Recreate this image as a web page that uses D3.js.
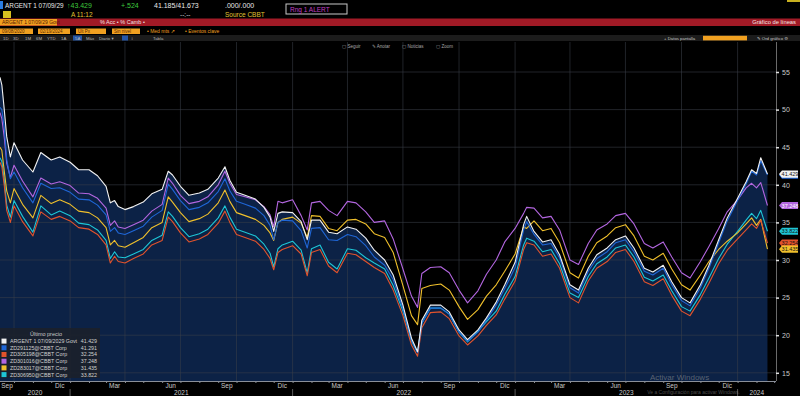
<!DOCTYPE html>
<html>
<head>
<meta charset="utf-8">
<script src="https://cdn.jsdelivr.net/npm/d3@7"></script>
<style>
  body { margin: 0; background: #000; }
  svg { display: block; font-family: "Liberation Sans", "DejaVu Sans", Arial, sans-serif; }
</style>
</head>
<body>
<div id="vis"></div>
<script>
// Sample dates (irregular, denser where the price jumps)
const dates = [
  "2020-09-08","2020-09-11","2020-09-15","2020-09-19","2020-09-25","2020-10-01","2020-10-15","2020-11-01","2020-11-14","2020-12-01",
  "2020-12-15","2021-01-01","2021-01-15","2021-02-01","2021-02-15","2021-03-01","2021-03-08","2021-03-15","2021-03-21","2021-04-01",
  "2021-04-15","2021-05-01","2021-05-15","2021-06-01","2021-06-11","2021-06-18","2021-07-01","2021-07-15","2021-08-01","2021-08-15",
  "2021-09-01","2021-09-12","2021-09-20","2021-10-01","2021-10-15","2021-11-01","2021-11-15","2021-11-25","2021-12-01","2021-12-08",
  "2021-12-15","2022-01-01","2022-01-15","2022-01-25","2022-02-01","2022-02-15","2022-03-01","2022-03-15","2022-04-01","2022-04-15",
  "2022-05-01","2022-05-15","2022-06-01","2022-06-15","2022-07-01","2022-07-15","2022-07-25","2022-08-01","2022-08-15","2022-09-01",
  "2022-09-15","2022-10-01","2022-10-15","2022-11-01","2022-11-15","2022-12-01","2022-12-15","2023-01-01","2023-01-15","2023-01-20",
  "2023-02-01","2023-02-15","2023-03-01","2023-03-15","2023-04-01","2023-04-15","2023-05-01","2023-05-15","2023-06-01","2023-06-15",
  "2023-07-01","2023-07-15","2023-08-01","2023-08-15","2023-09-01","2023-09-15","2023-10-01","2023-10-15","2023-11-01","2023-11-15",
  "2023-12-01","2023-12-15","2024-01-01","2024-01-15","2024-01-24","2024-02-01","2024-02-08","2024-02-19"
];

// Series values (price)
const argentGovt = [
  54.3, 53.3, 50.0, 46.4, 43.7, 45.6, 43.3, 41.7, 44.3, 43.3,
  43.7, 43.0, 42.0, 42.0, 41.2, 39.8, 37.6, 37.9, 37.1, 36.7,
  37.1, 37.7, 38.8, 39.4, 41.8, 41.3, 39.8, 38.6, 38.9, 39.4,
  40.9, 42.4, 40.6, 39.0, 38.6, 38.1, 37.0, 35.7, 33.8, 36.2,
  36.4, 36.3, 35.1, 32.7, 35.3, 35.3, 33.7, 33.5, 34.4, 34.1,
  32.9, 31.3, 30.0, 28.0, 24.0, 19.6, 17.8, 22.0, 24.0, 24.0,
  23.1, 20.7, 19.4, 20.7, 22.3, 24.4, 26.7, 29.7, 34.7, 35.8,
  33.8, 32.4, 32.7, 30.7, 26.7, 26.0, 28.9, 30.7, 31.6, 32.7,
  33.2, 31.6, 28.9, 28.4, 29.3, 27.1, 25.0, 24.3, 26.7, 29.3,
  32.7, 35.6, 38.2, 40.4, 42.0, 41.5, 43.6, 41.429
];
const corpBlue = [
  50.3, 50.0, 47.6, 43.4, 40.8, 41.7, 39.6, 37.6, 40.2, 39.5,
  39.6, 39.0, 38.1, 38.0, 37.3, 36.0, 33.8, 34.3, 33.6, 33.4,
  33.9, 34.5, 35.7, 36.6, 40.1, 39.4, 37.9, 36.7, 37.0, 37.6,
  39.1, 40.8, 39.2, 37.8, 37.4, 36.9, 35.9, 34.6, 32.7, 35.0,
  35.3, 35.2, 33.9, 31.6, 34.2, 34.3, 32.7, 32.6, 33.4, 33.1,
  31.9, 30.4, 29.3, 27.4, 23.5, 19.3, 17.7, 21.6, 23.6, 23.6,
  22.8, 20.4, 19.2, 20.4, 22.0, 24.0, 26.2, 29.0, 34.0, 35.1,
  33.4, 32.0, 32.2, 30.3, 26.3, 25.6, 28.5, 30.2, 31.1, 32.3,
  32.7, 31.1, 28.5, 28.0, 28.9, 26.7, 24.6, 23.9, 26.3, 28.9,
  32.3, 35.2, 37.9, 40.1, 41.8, 41.3, 43.2, 41.291
];
const corpRed = [
  43.0, 42.4, 39.9, 36.6, 35.0, 37.2, 35.1, 33.2, 36.4, 35.4,
  35.8, 35.2, 34.3, 34.1, 33.4, 32.0, 29.6, 30.5, 29.8, 29.6,
  30.2, 30.8, 32.0, 32.6, 35.7, 35.1, 33.6, 32.4, 32.8, 33.4,
  34.9, 36.5, 35.0, 33.4, 33.0, 32.5, 31.4, 30.2, 28.7, 31.0,
  31.4, 31.9, 30.8, 27.9, 31.0, 31.4, 29.2, 28.3, 30.9, 30.7,
  29.8, 29.0, 28.2, 26.0, 22.6, 18.7, 17.2, 21.0, 23.0, 23.1,
  22.2, 19.9, 18.7, 19.9, 21.3, 22.7, 24.8, 27.2, 31.4, 32.3,
  32.0, 30.5, 30.8, 28.9, 25.0, 24.3, 27.2, 28.9, 29.8, 31.0,
  31.4, 29.8, 27.1, 26.6, 27.5, 25.3, 23.2, 22.6, 24.8, 26.9,
  29.5, 31.3, 32.8, 34.0, 34.8, 34.2, 35.3, 32.254
];
const corpPurple = [
  49.6, 48.8, 46.3, 42.9, 41.0, 42.6, 40.5, 38.4, 40.9, 40.1,
  40.4, 39.9, 38.9, 38.8, 38.2, 36.9, 34.6, 35.2, 34.4, 34.2,
  34.7, 35.3, 36.5, 37.4, 40.9, 40.2, 38.6, 37.5, 37.8, 38.4,
  40.0, 41.8, 40.2, 38.7, 38.4, 38.0, 37.1, 36.0, 34.4, 37.8,
  37.6, 38.0, 35.9, 34.0, 37.6, 37.8, 36.6, 35.9, 37.8, 37.6,
  36.4, 35.0, 35.2, 32.8, 28.8, 25.2, 23.7, 28.2, 29.0, 29.1,
  28.3, 26.0, 24.3, 25.9, 28.1, 30.0, 32.4, 34.2, 36.2, 37.0,
  36.9, 35.6, 35.8, 34.0, 30.0, 29.4, 32.2, 34.0, 34.8, 35.9,
  36.2, 34.8, 32.2, 31.6, 32.4, 30.4, 28.3, 27.6, 29.8, 31.8,
  34.2, 36.4, 38.0, 39.6, 40.2, 39.6, 40.3, 37.248
];
const corpYellow = [
  45.0, 44.6, 41.8, 39.2, 37.6, 39.5, 37.4, 35.6, 38.6, 37.5,
  38.0, 37.4, 36.5, 36.3, 35.6, 34.3, 32.0, 32.6, 31.9, 31.7,
  32.3, 33.0, 34.3, 35.0, 38.4, 37.7, 36.3, 35.1, 35.5, 36.1,
  37.6, 39.3, 37.8, 36.3, 35.9, 35.4, 34.6, 33.6, 32.6, 35.0,
  35.4, 35.7, 34.9, 33.0, 35.9, 35.8, 34.2, 33.9, 35.3, 35.4,
  34.8, 33.5, 33.0, 31.0, 26.6, 22.6, 21.4, 26.2, 26.6, 26.8,
  26.0, 23.8, 22.1, 23.4, 25.2, 26.7, 28.5, 30.8, 34.4, 34.2,
  35.2, 33.9, 34.2, 32.3, 28.3, 27.6, 30.5, 32.3, 33.2, 34.3,
  34.7, 33.2, 30.5, 30.0, 30.9, 28.8, 26.7, 26.0, 28.0, 29.8,
  31.4, 32.5, 33.6, 34.8, 35.6, 34.6, 35.4, 31.435
];
const corpCyan = [
  43.6, 43.1, 40.6, 37.3, 35.7, 37.9, 35.8, 33.7, 37.2, 36.0,
  36.5, 35.9, 34.9, 34.7, 34.0, 32.6, 30.2, 31.1, 30.4, 30.3,
  30.8, 31.4, 32.6, 33.3, 36.4, 35.8, 34.3, 33.1, 33.5, 34.1,
  35.6, 37.2, 35.7, 34.1, 33.7, 33.2, 32.1, 30.9, 29.1, 31.5,
  32.0, 32.5, 31.3, 28.3, 31.5, 32.0, 29.7, 28.8, 31.5, 31.3,
  30.3, 29.6, 28.8, 26.6, 23.2, 19.2, 17.7, 21.6, 23.6, 23.6,
  22.8, 20.4, 19.1, 20.5, 21.8, 23.2, 25.4, 27.8, 32.0, 32.9,
  32.5, 31.1, 31.4, 29.5, 25.6, 25.0, 27.8, 29.5, 30.4, 31.6,
  32.0, 30.4, 27.7, 27.2, 28.0, 25.9, 23.8, 23.2, 25.4, 27.6,
  30.2, 32.1, 33.8, 35.3, 36.2, 35.5, 36.6, 33.822
];

const seriesNames = ["ARGENT 1 07/09/2029 Govt", "ZD291125@CBBT Corp", "ZD305198@CBBT Corp", "ZD301016@CBBT Corp", "ZD283017@CBBT Corp", "ZD306950@CBBT Corp"];
const lastPrices = ["41.429", "41.291", "32.254", "37.248", "31.435", "33.822"];
const seriesColors = ["#f2f2f2", "#1f66d6", "#e2532c", "#b366e0", "#f0c02c", "#1ec6d6"];
const seriesValues = [argentGovt, corpBlue, corpRed, corpPurple, corpYellow, corpCyan];

const yTicks = [15, 20, 25, 30, 35, 40, 45, 50, 55];
const monthNames = ["Ene", "Feb", "Mar", "Abr", "May", "Jun", "Jul", "Ago", "Sep", "Oct", "Nov", "Dic"];
const years = [2020, 2021, 2022, 2023, 2024];

// Layout
const W = 800, H = 396;
const plot = { left: 0, right: 776, top: 42, bottom: 381 };

const svg = d3.select('#vis').append('svg').attr('width', W).attr('height', H);
svg.append('rect').attr('width', W).attr('height', H).attr('fill', '#000');

const parse = d3.timeParse('%Y-%m-%d');
const dateObjs = dates.map(parse);

const xScale = d3.scaleTime()
  .domain([new Date(2020, 8, 8), new Date(2024, 2, 4)])
  .range([plot.left, plot.right]);
const yScale = d3.scaleLinear().domain([55, 15]).range([72, 372.8]);

// ---------- plot ----------
const g = svg.append('g');

// area under the government bond line
const govData = dateObjs.map((d, i) => ({ date: d, v: argentGovt[i] }));
g.append('path')
  .datum(govData)
  .attr('fill', '#0c2246')
  .attr('d', d3.area().x(d => xScale(d.date)).y0(plot.bottom).y1(d => yScale(d.v)));

// grid
const quarterStarts = d3.timeMonth.range(new Date(2020, 9, 1), new Date(2024, 2, 4), 3);
g.selectAll('.vgrid').data(quarterStarts).join('line')
  .attr('x1', d => xScale(d)).attr('x2', d => xScale(d))
  .attr('y1', plot.top).attr('y2', plot.bottom)
  .attr('stroke', '#3a3f48').attr('stroke-opacity', 0.55).attr('stroke-width', 1);
g.selectAll('.hgrid').data(yTicks).join('line')
  .attr('x1', plot.left).attr('x2', plot.right)
  .attr('y1', d => yScale(d)).attr('y2', d => yScale(d))
  .attr('stroke', '#3a3f48').attr('stroke-opacity', 0.55).attr('stroke-width', 1);

// lines (government bond drawn last, on top)
const line = d3.line().x(d => xScale(d.date)).y(d => yScale(d.v));
[5, 4, 3, 2, 1, 0].forEach(k => {
  const data = dateObjs.map((d, i) => ({ date: d, v: seriesValues[k][i] }));
  g.append('path').datum(data)
    .attr('fill', 'none')
    .attr('stroke', seriesColors[k])
    .attr('stroke-width', 1.1)
    .attr('stroke-linejoin', 'round')
    .attr('d', line);
});

// ---------- right axis ----------
svg.append('line').attr('x1', plot.right + 0.5).attr('x2', plot.right + 0.5)
  .attr('y1', plot.top).attr('y2', plot.bottom).attr('stroke', '#6a6a6a');
const yAxis = svg.append('g').attr('transform', `translate(${plot.right},0)`)
  .call(d3.axisRight(yScale).tickValues(yTicks).tickSize(3).tickPadding(3));
yAxis.select('.domain').remove();
yAxis.selectAll('line').attr('stroke', '#e0e0e0').attr('stroke-width', 1.5);
yAxis.selectAll('text').attr('fill', '#c8c8c8').style('font-size', '7px');

// last value tags
[1, 0, 3, 5, 2, 4].forEach(k => {
  const v = +lastPrices[k];
  const yy = yScale(v);
  const tg = svg.append('g').attr('transform', `translate(779,${yy})`);
  tg.append('path')
    .attr('d', 'M0,0 L3,-3.6 L19,-3.6 L19,3.6 L3,3.6 Z')
    .attr('fill', seriesColors[k]);
  tg.append('text').attr('x', 11).attr('y', 2.2).attr('text-anchor', 'middle')
    .attr('fill', k === 3 ? '#fff' : '#111').style('font-size', '5.5px')
    .text(lastPrices[k]);
});

// ---------- bottom axis ----------
svg.append('line').attr('x1', 0).attr('x2', plot.right).attr('y1', plot.bottom + 0.5).attr('y2', plot.bottom + 0.5)
  .attr('stroke', '#8a8f98');
const xAxis = svg.append('g').attr('transform', `translate(0,${plot.bottom})`)
  .call(d3.axisBottom(xScale).ticks(d3.timeMonth.every(1)).tickSize(2).tickFormat(''));
xAxis.select('.domain').remove();
xAxis.selectAll('line').attr('stroke', '#8a8f98');

const labelMonths = d3.timeMonth.range(new Date(2020, 8, 1), new Date(2024, 1, 1))
  .filter(d => [2, 5, 8, 11].includes(d.getMonth()));
svg.selectAll('.mlabel').data(labelMonths).join('text')
  .attr('x', d => Math.max(xScale(new Date(d.getFullYear(), d.getMonth(), 15)), 7))
  .attr('y', 388).attr('text-anchor', 'middle')
  .attr('fill', '#c8c8c8').style('font-size', '6.5px')
  .text(d => monthNames[d.getMonth()]);

svg.selectAll('.ylabel').data(years).join('text')
  .attr('x', d => {
    const a = Math.max(xScale(new Date(d, 0, 1)), 0);
    const b = Math.min(xScale(new Date(d + 1, 0, 1)), plot.right);
    return (a + b) / 2;
  })
  .attr('y', 395).attr('text-anchor', 'middle')
  .attr('fill', '#c8c8c8').style('font-size', '6.5px')
  .text(d => d);
svg.selectAll('.ysep').data(years.slice(1)).join('line')
  .attr('x1', d => xScale(new Date(d, 0, 1))).attr('x2', d => xScale(new Date(d, 0, 1)))
  .attr('y1', 389).attr('y2', 396).attr('stroke', '#5a5a5a');

// ---------- legend ----------
const lg = svg.append('g').attr('transform', 'translate(0,328)');
lg.append('rect').attr('width', 100).attr('height', 50).attr('fill', '#1b212b').attr('fill-opacity', 0.92);
lg.append('text').attr('x', 46).attr('y', 8).attr('text-anchor', 'middle')
  .attr('fill', '#c8c8c8').style('font-size', '5.5px').text('Último precio');
seriesNames.forEach((name, i) => {
  const yy = 13 + i * 6.7;
  lg.append('rect').attr('x', 1.5).attr('y', yy - 2.4).attr('width', 5).attr('height', 5).attr('fill', seriesColors[i]);
  lg.append('text').attr('x', 10).attr('y', yy + 2).attr('fill', '#d0d0d0').style('font-size', '5.3px').text(name);
  lg.append('text').attr('x', 97).attr('y', yy + 2).attr('text-anchor', 'end').attr('fill', '#d0d0d0').style('font-size', '5.3px').text(lastPrices[i]);
});

// windows watermark (sits over the axis labels, as in the screenshot)
svg.append('text').attr('x', 650).attr('y', 380).attr('fill', '#9a9a9a').attr('fill-opacity', 0.55)
  .style('font-size', '8px').text('Activar Windows');
svg.append('text').attr('x', 740).attr('y', 394).attr('text-anchor', 'end').attr('fill', '#9a9a9a').attr('fill-opacity', 0.5)
  .style('font-size', '5px').text('Ve a Configuración para activar Windows.');

// ---------- terminal header ----------
const hd = svg.append('g');
hd.append('rect').attr('x', 0).attr('y', 1).attr('width', 3).attr('height', 8).attr('fill', '#2a7de0');
hd.append('text').attr('x', 5).attr('y', 8).attr('fill', '#e8e8e8').style('font-size', '6.4px').text('ARGENT 1 07/09/29');
hd.append('text').attr('x', 67).attr('y', 8).attr('fill', '#3ec83e').style('font-size', '7px').text('↑43.429');
hd.append('text').attr('x', 121).attr('y', 8).attr('fill', '#3ec83e').style('font-size', '7px').text('+.524');
hd.append('text').attr('x', 154).attr('y', 8).attr('fill', '#e8e8e8').style('font-size', '7px').text('41.185/41.673');
hd.append('text').attr('x', 225).attr('y', 8).attr('fill', '#e8e8e8').style('font-size', '7px').text('.000/.000');
hd.append('rect').attr('x', 286).attr('y', 4).attr('width', 61).attr('height', 10).attr('fill', '#000')
  .attr('stroke', '#c8c8c8').attr('stroke-width', 1);
hd.append('text').attr('x', 290).attr('y', 11.5).attr('fill', '#c040c0').style('font-size', '6.5px').text('Rng 1  ALERT');
hd.append('rect').attr('x', 3).attr('y', 11).attr('width', 8).attr('height', 7).attr('fill', '#d8c020');
hd.append('text').attr('x', 71).attr('y', 17).attr('fill', '#e0c030').style('font-size', '6.5px').text('A  11:12');
hd.append('text').attr('x', 180).attr('y', 17).attr('fill', '#c8c8c8').style('font-size', '6.5px').text('--:--');
hd.append('text').attr('x', 225).attr('y', 17).attr('fill', '#e0c030').style('font-size', '6.5px').text('Source CBBT');
hd.append('rect').attr('x', 787).attr('y', 0).attr('width', 13).attr('height', 2).attr('fill', '#c8b020');

// red title bar
hd.append('rect').attr('x', 0).attr('y', 18.5).attr('width', W).attr('height', 7.5).attr('fill', '#a11a26');
hd.append('rect').attr('x', 0).attr('y', 19).attr('width', 57).attr('height', 6.5).attr('fill', '#f0a020');
hd.append('text').attr('x', 2).attr('y', 24).attr('fill', '#5a1a00').style('font-size', '5px').text('ARGENT 1 07/09/29 Govt');
hd.append('text').attr('x', 100).attr('y', 24.2).attr('fill', '#f0e0e0').style('font-size', '5.5px').text('% Acc •  % Camb •');
hd.append('text').attr('x', 796).attr('y', 24.2).attr('text-anchor', 'end').attr('fill', '#f4e6e6').style('font-size', '5.8px').text('Gráfico de líneas');

// controls row
const boxes = [[0, 33, '09/08/2020'], [38, 32, '02/19/2024'], [76, 30, 'Últ Px'], [112, 28, 'Sin nivel']];
boxes.forEach(b => {
  hd.append('rect').attr('x', b[0]).attr('y', 28.5).attr('width', b[1]).attr('height', 5.5).attr('fill', '#f0a020');
  hd.append('text').attr('x', b[0] + 2).attr('y', 32.8).attr('fill', '#5a2a00').style('font-size', '4.5px').text(b[2]);
});
hd.append('text').attr('x', 147).attr('y', 33).attr('fill', '#f0a020').style('font-size', '5px').text('• Med mts ↗');
hd.append('text').attr('x', 185).attr('y', 33).attr('fill', '#f0a020').style('font-size', '5px').text('• Eventos clave');

// period row
hd.append('rect').attr('x', 0).attr('y', 35).attr('width', W).attr('height', 6).attr('fill', '#1c1c1c');
const periods = [[3, '1D'], [13, '3D'], [25, '1M'], [36, '6M'], [47, 'YTD'], [61, '1A'], [75, '5A'], [86, 'Máx'], [99, 'Diario ▾'], [131, '↕'], [153, 'Tabla']];
hd.append('rect').attr('x', 73).attr('y', 35.5).attr('width', 9).attr('height', 5).attr('fill', '#2456a8');
hd.append('rect').attr('x', 122).attr('y', 35.5).attr('width', 6).attr('height', 5).attr('fill', '#2456a8');
periods.forEach(p => {
  hd.append('text').attr('x', p[0]).attr('y', 39.6).attr('fill', '#b8b8b8').style('font-size', '4.3px').text(p[1]);
});
hd.append('text').attr('x', 664).attr('y', 39.6).attr('fill', '#c8c8c8').style('font-size', '4.3px').text('+ Datos pantalla');
hd.append('rect').attr('x', 703).attr('y', 35.8).attr('width', 44).attr('height', 4.6).attr('fill', '#f0a020');
hd.append('text').attr('x', 757).attr('y', 39.6).attr('fill', '#c8c8c8').style('font-size', '4.3px').text('✎ Ord gráfico ⚙');

// chart toolbar
const tools = [[342, '▢ Seguir'], [372, '✎ Anotar'], [402, '▢ Noticias'], [436, '▢ Zoom']];
tools.forEach(t => {
  hd.append('text').attr('x', t[0]).attr('y', 47.5).attr('fill', '#a8a8a8').style('font-size', '4.5px').text(t[1]);
});
</script>
</body>
</html>
